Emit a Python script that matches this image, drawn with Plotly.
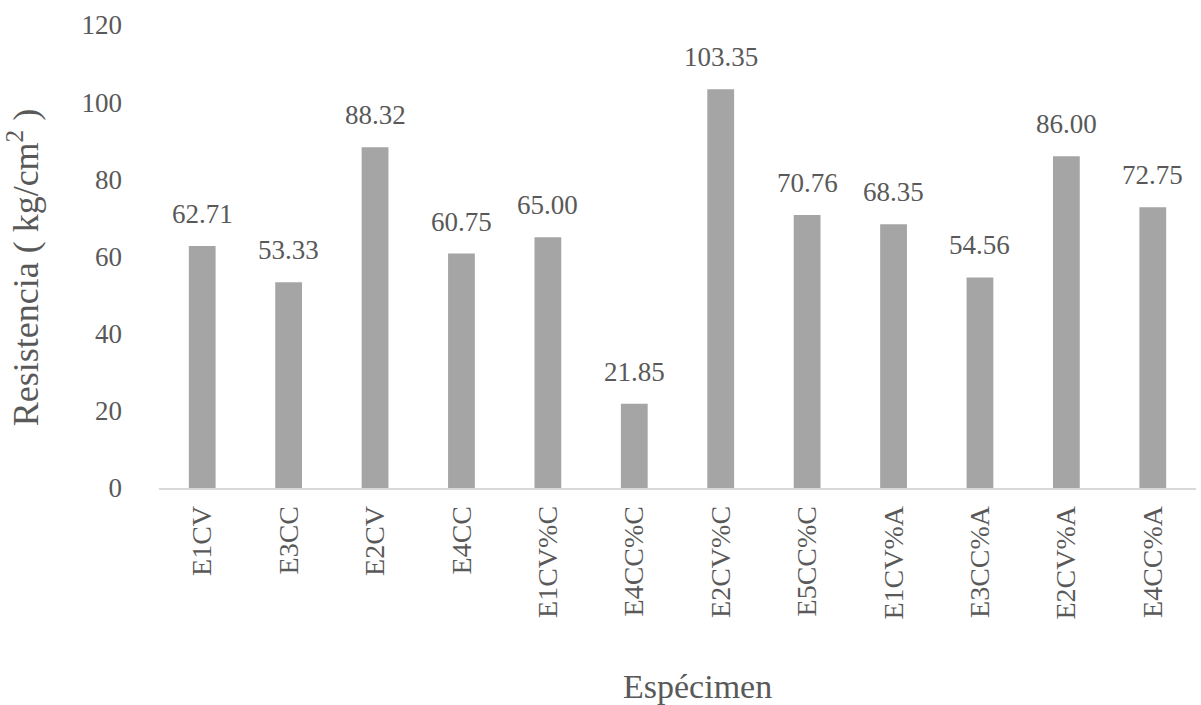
import plotly.graph_objects as go

categories = ["E1CV", "E3CC", "E2CV", "E4CC", "E1CV%C", "E4CC%C",
              "E2CV%C", "E5CC%C", "E1CV%A", "E3CC%A", "E2CV%A", "E4CC%A"]
values = [62.71, 53.33, 88.32, 60.75, 65.00, 21.85,
          103.35, 70.76, 68.35, 54.56, 86.00, 72.75]
y_ticks = [0, 20, 40, 60, 80, 100, 120]

FONT = "Liberation Serif"
TXT = "#595959"

fig = go.Figure()
fig.add_trace(go.Bar(x=categories, y=values, marker=dict(color="#A5A5A5", line=dict(width=0)),
                     width=0.31, hoverinfo="x+y"))

for c, v in zip(categories, values):
    fig.add_annotation(x=c, y=v, text=f"{v:.2f}", showarrow=False, yanchor="bottom",
                       yshift=15, font=dict(family=FONT, size=27, color=TXT))

# axis titles as annotations for precise placement
fig.add_annotation(xref="paper", yref="paper", x=-0.131, y=0.477, textangle=-90,
                   text="Resistencia ( kg/cm<sup>2</sup> )", showarrow=False,
                   xanchor="center", yanchor="middle",
                   font=dict(family=FONT, size=36, color=TXT))
fig.add_annotation(xref="paper", yref="paper", x=0.519, y=-0.428,
                   text="Espécimen", showarrow=False,
                   xanchor="center", yanchor="middle",
                   font=dict(family=FONT, size=34, color=TXT))

fig.update_layout(
    width=1201, height=705,
    margin=dict(l=159, r=5, t=25, b=217),
    plot_bgcolor="white", paper_bgcolor="white",
    showlegend=False,
    font=dict(family=FONT, size=27, color=TXT),
    xaxis=dict(showgrid=False, showline=True, linecolor="#D9D9D9", linewidth=1.5,
               tickangle=-90, ticks="", ticklabelstandoff=5,
               tickfont=dict(family=FONT, size=28, color=TXT)),
    yaxis=dict(range=[0, 120], tickvals=y_ticks, showgrid=False, zeroline=False,
               showline=False, ticks="", ticklabelstandoff=36,
               tickfont=dict(family=FONT, size=27, color=TXT)),
)

fig.write_html("out.html")
